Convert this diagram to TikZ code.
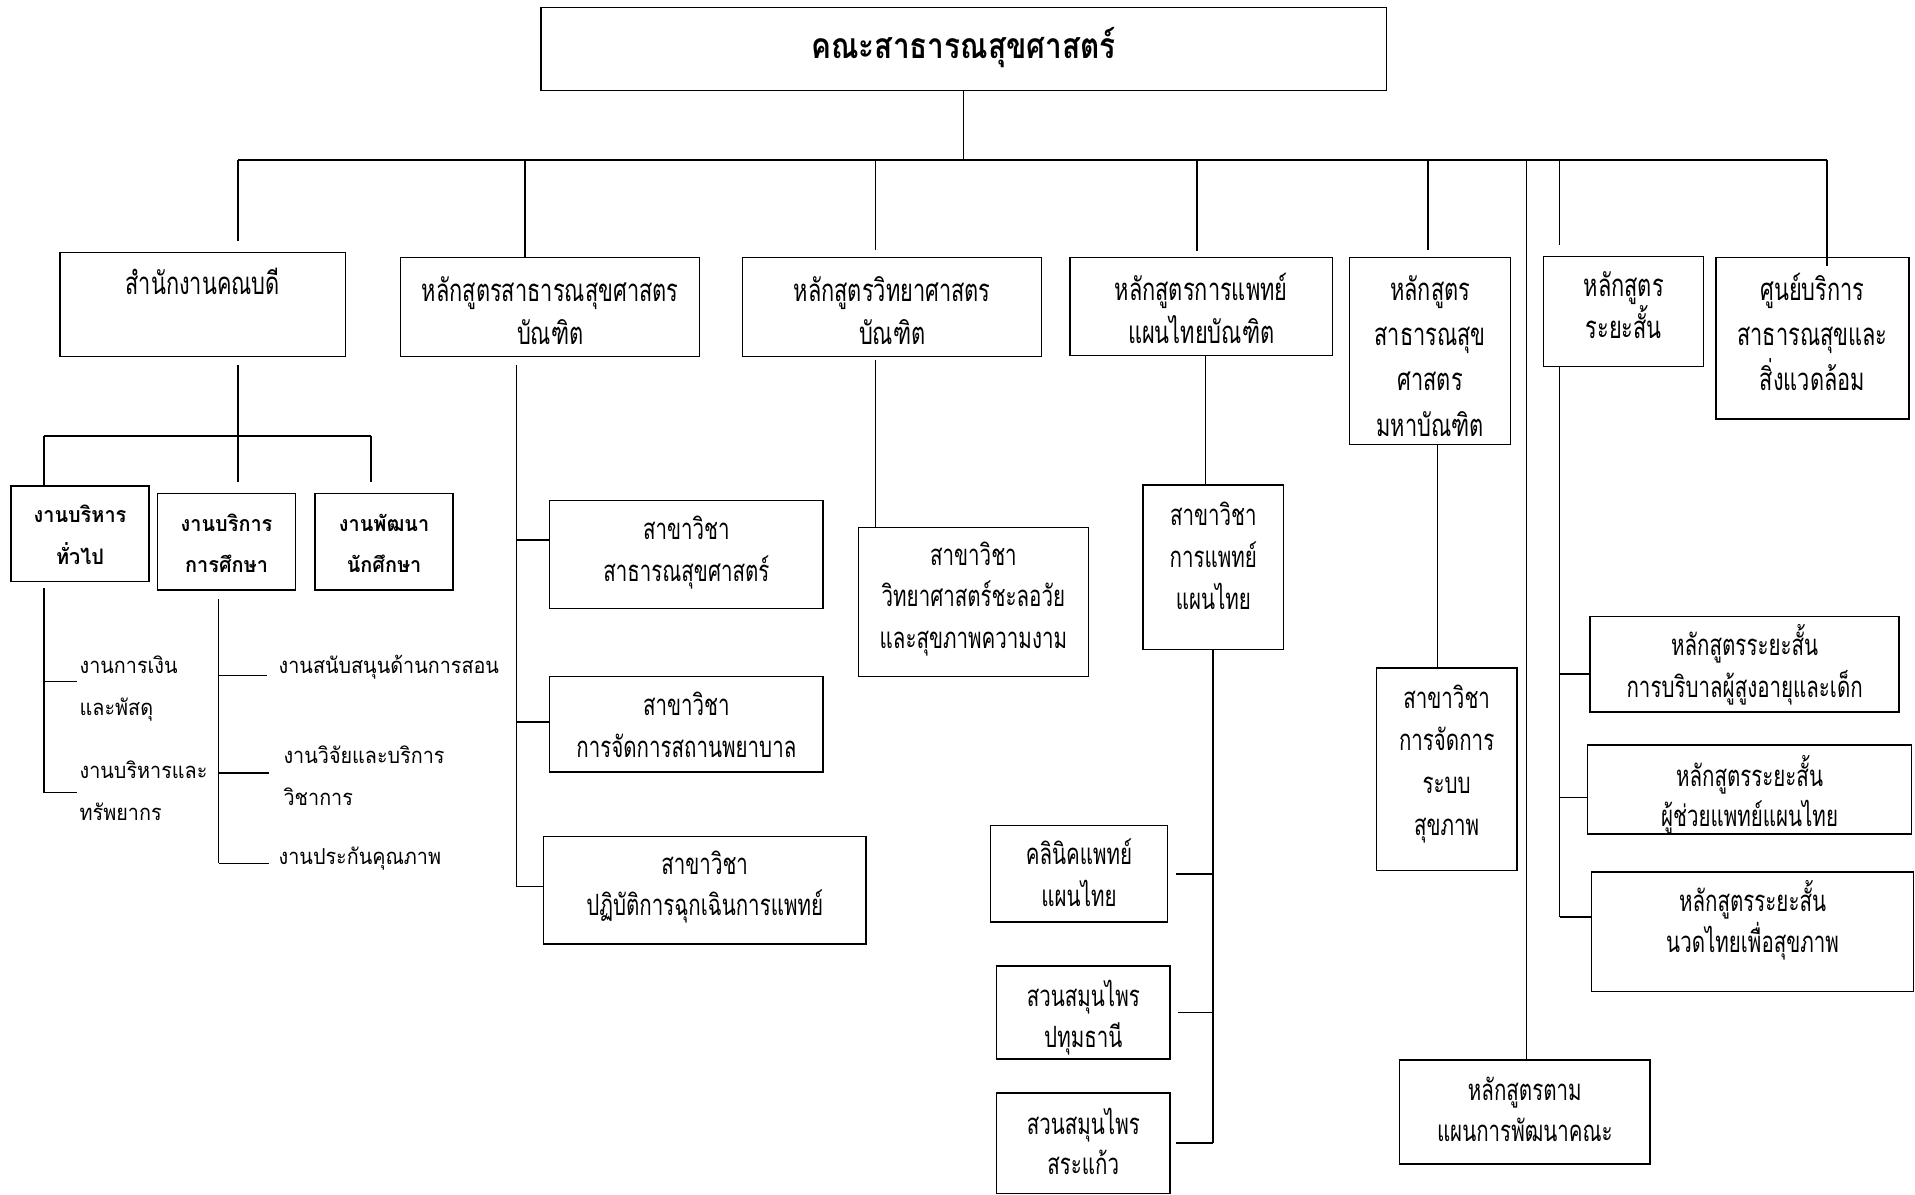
\documentclass[tikz,border=0pt]{standalone}
\usepackage{fontspec}
\newfontfamily\thc[Script=Thai,FakeStretch=0.70]{Loma}
\newfontfamily\tht[Script=Thai,FakeStretch=0.84]{Loma}
\newfontfamily\ths[Script=Thai,FakeStretch=0.90]{Loma}
\newfontfamily\thb[Script=Thai,FakeStretch=0.93]{Loma}
\usetikzlibrary{fit}
% centred lines; #1 = line distance, #2 = lift of the first baseline above the box centre
\newcommand\ctext[3]{\raisebox{#2}[0pt][0pt]{\vtop{\baselineskip=#1\lineskiplimit=-\maxdimen\lineskip=0pt\let\\=\cr\halign{\hfil##\hfil\cr#3\crcr}}}}
% left aligned lines, first baseline at the node's west anchor
\newcommand\ltext[2]{\raisebox{0pt}[0pt][0pt]{\vtop{\baselineskip=#1\lineskiplimit=-\maxdimen\lineskip=0pt\let\\=\cr\halign{##\hfil\cr#2\crcr}}}}
\begin{document}
\begin{tikzpicture}[x=1pt,y=-1pt,
  box/.style={draw, line width=1.1pt, inner sep=0pt},
  conn/.style={line width=1.3pt},
  bus/.style={line width=2pt},
  cond/.style={font=\thc\fontsize{25.5}{35}\selectfont},
  condt/.style={font=\thc\fontsize{24}{34}\selectfont},
  mid/.style={font=\thc\fontsize{24}{34}\selectfont},
  ttl/.style={font=\tht\bfseries\fontsize{29}{32}\selectfont},
  lbold/.style={font=\thb\bfseries\fontsize{17.5}{34}\selectfont},
  side/.style={font=\ths\fontsize{18}{34}\selectfont, inner ysep=0pt}
]
\useasboundingbox[fill=white] (0,0) rectangle (1568,978);

% ---- boxes ----
\node[box, ttl, fit={(443,6) (1135,74)}] (title) {\ctext{32pt}{-8pt}{คณะสาธารณสุขศาสตร์}};

\node[box, cond, fit={(49,207) (283,292)}] (office) {\ctext{35pt}{8.5pt}{สำนักงานคณบดี}};
\node[box, cond, fit={(328,211) (573,292)}] (bph) {\ctext{35pt}{4.5pt}{หลักสูตรสาธารณสุขศาสตร\\บัณฑิต}};
\node[box, cond, fit={(608,211) (853,292)}] (bsc) {\ctext{35pt}{4.5pt}{หลักสูตรวิทยาศาสตร\\บัณฑิต}};
\node[box, cond, fit={(876,211) (1091,291)}] (ttm) {\ctext{35pt}{5pt}{หลักสูตรการแพทย์\\แผนไทยบัณฑิต}};
\node[box, cond, fit={(1105,211) (1237,364)}] (mph) {\ctext{37pt}{41.5pt}{หลักสูตร\\สาธารณสุข\\ศาสตร\\มหาบัณฑิต}};
\node[box, cond, fit={(1264,210) (1395,300)}] (short) {\ctext{34pt}{12pt}{หลักสูตร\\ระยะสั้น}};
\node[box, cond, fit={(1405,211) (1563,343)}] (center) {\ctext{37pt}{31pt}{ศูนย์บริการ\\สาธารณสุขและ\\สิ่งแวดล้อม}};

\node[box, lbold, fit={(9,398) (122,476)}] (gen) {\ctext{34pt}{9pt}{งานบริหาร\\ทั่วไป}};
\node[box, lbold, fit={(129,404) (242,483)}] (edu) {\ctext{34pt}{8.5pt}{งานบริการ\\การศึกษา}};
\node[box, lbold, fit={(258,404) (371,483)}] (dev) {\ctext{34pt}{8.5pt}{งานพัฒนา\\นักศึกษา}};

\node[side, anchor=west, inner xsep=2pt] (fin) at (63,551.5) {\ltext{34pt}{งานการเงิน\\และพัสดุ}};
\node[side, anchor=west, inner xsep=2pt] (res) at (63,637.5) {\ltext{34pt}{งานบริหารและ\\ทรัพยากร}};
\node[side, anchor=west, inner xsep=9pt] (sup) at (219,551.5) {\ltext{34pt}{งานสนับสนุนด้านการสอน}};
\node[side, anchor=west, inner xsep=12pt] (rsv) at (220,625.5) {\ltext{34pt}{งานวิจัยและบริการ\\วิชาการ}};
\node[side, anchor=west, inner xsep=8pt] (qa) at (220,707.5) {\ltext{34pt}{งานประกันคุณภาพ}};

\node[box, mid, fit={(450,410) (674,498)}] (phs) {\ctext{34pt}{12pt}{สาขาวิชา\\สาธารณสุขศาสตร์}};
\node[box, mid, fit={(450,554) (674,632)}] (hosp) {\ctext{34pt}{7pt}{สาขาวิชา\\การจัดการสถานพยาบาล}};
\node[box, mid, fit={(445,685) (709,773)}] (ems) {\ctext{34pt}{13pt}{สาขาวิชา\\ปฏิบัติการฉุกเฉินการแพทย์}};
\node[box, mid, fit={(703,432) (891,554)}] (anti) {\ctext{34pt}{30pt}{สาขาวิชา\\วิทยาศาสตร์ชะลอวัย\\และสุขภาพความงาม}};

\node[box, condt, fit={(936,397) (1051,532)}] (ttmd) {\ctext{34.5pt}{34.5pt}{สาขาวิชา\\การแพทย์\\แผนไทย}};
\node[box, condt, fit={(811,676) (956,755)}] (clinic) {\ctext{34pt}{7.5pt}{คลินิคแพทย์\\แผนไทย}};
\node[box, condt, fit={(816,791) (958,867)}] (herb1) {\ctext{34pt}{5pt}{สวนสมุนไพร\\ปทุมธานี}};
\node[box, condt, fit={(816,895) (958,977)}] (herb2) {\ctext{33pt}{7pt}{สวนสมุนไพร\\สระแก้ว}};

\node[box, condt, fit={(1127,547) (1242,713)}] (hsm) {\ctext{34.7pt}{50pt}{สาขาวิชา\\การจัดการ\\ระบบ\\สุขภาพ}};
\node[box, condt, fit={(1146,868) (1351,953)}] (plan) {\ctext{34pt}{9.5pt}{หลักสูตรตาม\\แผนการพัฒนาคณะ}};

\node[box, condt, fit={(1302,505) (1555,583)}] (sc1) {\ctext{34pt}{7pt}{หลักสูตรระยะสั้น\\การบริบาลผู้สูงอายุและเด็ก}};
\node[box, condt, fit={(1300,610) (1565,683)}] (sc2) {\ctext{33pt}{2.5pt}{หลักสูตรระยะสั้น\\ผู้ช่วยแพทย์แผนไทย}};
\node[box, condt, fit={(1303,714) (1567,812)}] (sc3) {\ctext{34pt}{17pt}{หลักสูตรระยะสั้น\\นวดไทยเพื่อสุขภาพ}};

% ---- coordinates on the main bus ----
\coordinate (bL) at (195,131);
\coordinate (b2) at (430,131);
\coordinate (b3) at (717,131);
\coordinate (b4) at (980,131);
\coordinate (b5) at (1169,131);
\coordinate (b6) at (1250,131);
\coordinate (b7) at (1277,131);
\coordinate (bR) at (1496,131);

% ---- top level ----
\draw[conn] (title.south) -- (title.south |- bL);
\draw[bus] (bL) -- (bR);
\draw[conn, shorten >=9pt] (bL) -- (bL |- office.north);
\draw[conn] (b2) -- (b2 |- bph.north);
\draw[conn, shorten >=6pt] (b3) -- (b3 |- bsc.north);
\draw[conn, shorten >=5pt] (b4) -- (b4 |- ttm.north);
\draw[conn, shorten >=6pt] (b5) -- (b5 |- mph.north);
\draw[conn] (b6) -- (b6 |- plan.north);
\draw[conn, shorten >=9pt] (b7) -- (b7 |- short.north);
\draw[conn, shorten >=-7pt] (bR) -- (bR |- center.north);

% ---- office subtree ----
\coordinate (o1) at (195,357);
\coordinate (hL) at (36,357);
\coordinate (hR) at (304,357);
\draw[conn, shorten <=6pt] (bL |- office.south) -- (o1);
\draw[conn] (hL) -- (hR);
\draw[conn] (hL) -- (hL |- gen.north);
\draw[conn, shorten >=9pt] (o1) -- (o1 |- edu.north);
\draw[conn, shorten >=9pt] (hR) -- (hR |- dev.north);

\coordinate (gA) at (36,558);
\coordinate (gB) at (36,649);
\draw[conn, shorten <=5pt] (hL |- gen.south) -- (gB);
\draw[conn] (gA) -- (gA -| fin.west);
\draw[conn] (gB) -- (gB -| res.west);

\coordinate (eA) at (179,553);
\coordinate (eB) at (179,633);
\coordinate (eC) at (179,707);
\draw[conn, shorten <=7pt] (eA |- edu.south) -- (eC);
\draw[conn] (eA) -- (eA -| sup.west);
\draw[conn] (eB) -- (eB -| rsv.west);
\draw[conn] (eC) -- (eC -| qa.west);

% ---- column 2 ----
\coordinate (c2a) at (423,442);
\coordinate (c2b) at (423,591);
\coordinate (c2c) at (423,726);
\draw[conn, shorten <=6pt] (c2a |- bph.south) -- (c2c);
\draw[conn] (c2a) -- (c2a -| phs.west);
\draw[conn] (c2b) -- (c2b -| hosp.west);
\draw[conn] (c2c) -- (c2c -| ems.west);

% ---- column 3 ----
\draw[conn, shorten <=2pt] (b3 |- bsc.south) -- (b3 |- anti.north);

% ---- column 4 ----
\coordinate (c4x) at (987,300);
\draw[conn] (c4x |- ttm.south) -- (c4x |- ttmd.north);
\coordinate (c4y) at (993,600);
\draw[conn] (c4y |- ttmd.south) -- (c4y |- herb2.east);
\draw[conn, shorten >=6pt] (c4y |- clinic.east) -- (clinic.east);
\draw[conn, shorten >=6pt] (c4y |- herb1.east) -- (herb1.east);
\draw[conn, shorten >=4pt] (c4y |- herb2.east) -- (herb2.east);

% ---- column 5 ----
\coordinate (c5x) at (1177,400);
\draw[conn] (c5x |- mph.south) -- (c5x |- hsm.north);

% ---- column 7 ----
\coordinate (c7a) at (1277,552);
\coordinate (c7b) at (1277,653);
\coordinate (c7c) at (1277,751);
\draw[conn] (c7a |- short.south) -- (c7c);
\draw[conn] (c7a) -- (c7a -| sc1.west);
\draw[conn] (c7b) -- (c7b -| sc2.west);
\draw[conn] (c7c) -- (c7c -| sc3.west);
\end{tikzpicture}
\end{document}
